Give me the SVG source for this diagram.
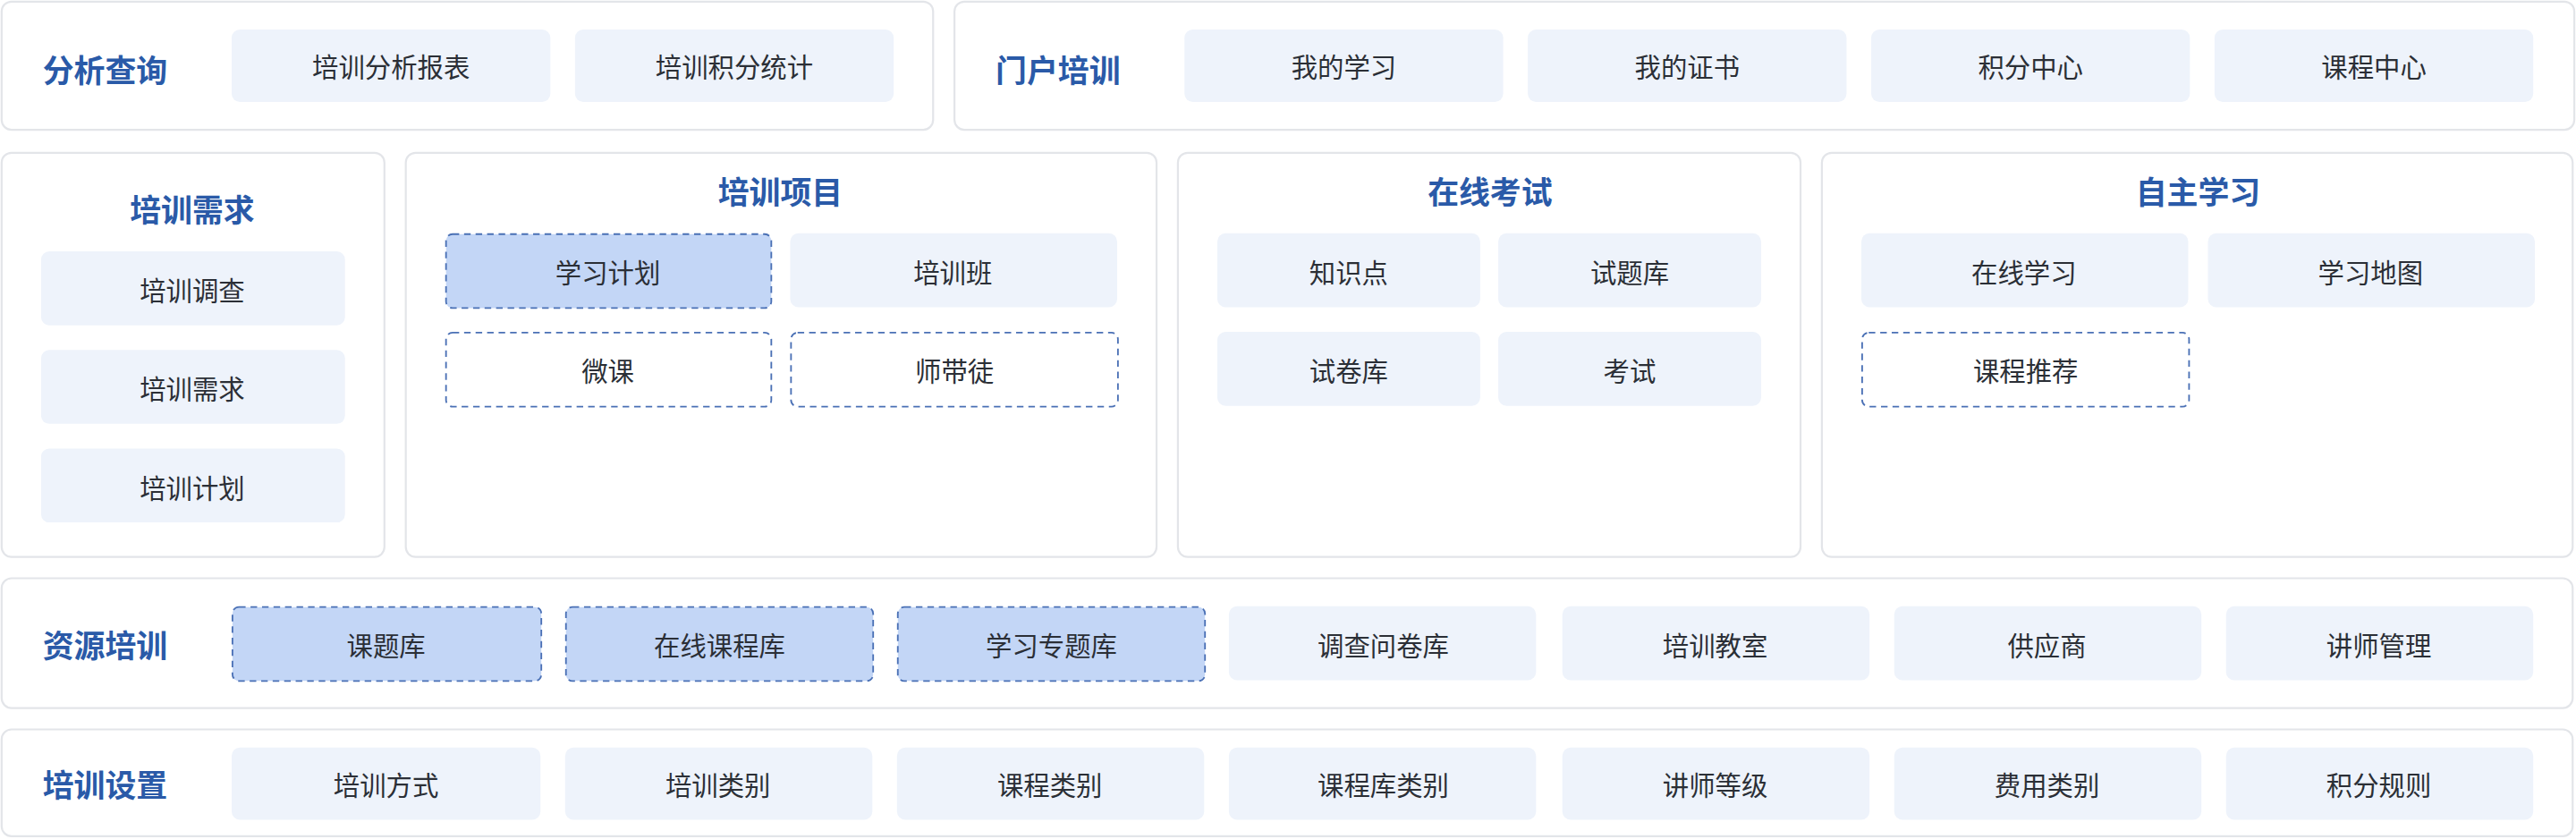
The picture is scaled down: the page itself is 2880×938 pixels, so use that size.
<svg xmlns="http://www.w3.org/2000/svg" width="2880" height="938" viewBox="0 0 2880 938">
<style>
.p{fill:#fff;stroke:#e3e5e9;stroke-width:1.2}
.c{fill:#eef3fb}
.h{fill:#c3d6f6;stroke:#4a70b5;stroke-width:1;stroke-dasharray:4 3}
.d{fill:#fff;stroke:#4a70b5;stroke-width:1;stroke-dasharray:4 3}
.t{font-family:"Noto Sans CJK SC",sans-serif;font-size:16px;fill:#2b2f36;text-anchor:middle;dominant-baseline:central}
.g{font-family:"Noto Sans CJK SC",sans-serif;font-size:19px;font-weight:bold;fill:#2a5aa8;dominant-baseline:central}
.m{text-anchor:middle}
</style>
<rect width="2880" height="938" fill="#fff"/>
<g transform="scale(1.8367)">
<g id="panels">
<rect class="p" x="1" y="1" width="567" height="78" rx="6"/>
<rect class="p" x="581" y="1" width="986" height="78" rx="6"/>
<rect class="p" x="1" y="93" width="233" height="246" rx="6"/>
<rect class="p" x="247" y="93" width="457" height="246" rx="6"/>
<rect class="p" x="717" y="93" width="379" height="246" rx="6"/>
<rect class="p" x="1109" y="93" width="457" height="246" rx="6"/>
<rect class="p" x="1" y="352" width="1565" height="79" rx="6"/>
<rect class="p" x="1" y="444" width="1565" height="65" rx="6"/>
</g>
<g id="titles">
<text class="g" x="26" y="42">分析查询</text>
<text class="g" x="606" y="42">门户培训</text>
<text class="g m" x="117" y="127">培训需求</text>
<text class="g m" x="475" y="116">培训项目</text>
<text class="g m" x="907" y="116">在线考试</text>
<text class="g m" x="1338" y="116">自主学习</text>
<text class="g" x="26" y="392">资源培训</text>
<text class="g" x="26" y="477">培训设置</text>
</g>
<g id="n1"><rect class="c" x="141" y="18" width="194" height="44" rx="5"/><text class="t" x="238" y="40">培训分析报表</text></g>
<g id="n2"><rect class="c" x="350" y="18" width="194" height="44" rx="5"/><text class="t" x="447" y="40">培训积分统计</text></g>
<g id="n3"><rect class="c" x="721" y="18" width="194" height="44" rx="5"/><text class="t" x="818" y="40">我的学习</text></g>
<g id="n4"><rect class="c" x="930" y="18" width="194" height="44" rx="5"/><text class="t" x="1027" y="40">我的证书</text></g>
<g id="n5"><rect class="c" x="1139" y="18" width="194" height="44" rx="5"/><text class="t" x="1236" y="40">积分中心</text></g>
<g id="n6"><rect class="c" x="1348" y="18" width="194" height="44" rx="5"/><text class="t" x="1445" y="40">课程中心</text></g>
<g id="n7"><rect class="c" x="25" y="153" width="185" height="45" rx="5"/><text class="t" x="117" y="176">培训调查</text></g>
<g id="n8"><rect class="c" x="25" y="213" width="185" height="45" rx="5"/><text class="t" x="117" y="236">培训需求</text></g>
<g id="n9"><rect class="c" x="25" y="273" width="185" height="45" rx="5"/><text class="t" x="117" y="296">培训计划</text></g>
<g id="n10"><rect class="h" x="271.5" y="142.5" width="198" height="45" rx="4"/><text class="t" x="370" y="165">学习计划</text></g>
<g id="n11"><rect class="c" x="481" y="142" width="199" height="45" rx="5"/><text class="t" x="580" y="165">培训班</text></g>
<g id="n12"><rect class="d" x="271.5" y="202.5" width="198" height="45" rx="4"/><text class="t" x="370" y="225">微课</text></g>
<g id="n13"><rect class="d" x="481.5" y="202.5" width="199" height="45" rx="4"/><text class="t" x="581" y="225">师带徒</text></g>
<g id="n14"><rect class="c" x="741" y="142" width="160" height="45" rx="5"/><text class="t" x="821" y="165">知识点</text></g>
<g id="n15"><rect class="c" x="912" y="142" width="160" height="45" rx="5"/><text class="t" x="992" y="165">试题库</text></g>
<g id="n16"><rect class="c" x="741" y="202" width="160" height="45" rx="5"/><text class="t" x="821" y="225">试卷库</text></g>
<g id="n17"><rect class="c" x="912" y="202" width="160" height="45" rx="5"/><text class="t" x="992" y="225">考试</text></g>
<g id="n18"><rect class="c" x="1133" y="142" width="199" height="45" rx="5"/><text class="t" x="1232" y="165">在线学习</text></g>
<g id="n19"><rect class="c" x="1344" y="142" width="199" height="45" rx="5"/><text class="t" x="1443" y="165">学习地图</text></g>
<g id="n20"><rect class="d" x="1133.5" y="202.5" width="199" height="45" rx="4"/><text class="t" x="1233" y="225">课程推荐</text></g>
<g id="n21"><rect class="h" x="141.5" y="369.5" width="188" height="45" rx="4"/><text class="t" x="235" y="392">课题库</text></g>
<g id="n22"><rect class="h" x="344.5" y="369.5" width="187" height="45" rx="4"/><text class="t" x="438" y="392">在线课程库</text></g>
<g id="n23"><rect class="h" x="546.5" y="369.5" width="187" height="45" rx="4"/><text class="t" x="640" y="392">学习专题库</text></g>
<g id="n24"><rect class="c" x="748" y="369" width="187" height="45" rx="5"/><text class="t" x="842" y="392">调查问卷库</text></g>
<g id="n25"><rect class="c" x="951" y="369" width="187" height="45" rx="5"/><text class="t" x="1044" y="392">培训教室</text></g>
<g id="n26"><rect class="c" x="1153" y="369" width="187" height="45" rx="5"/><text class="t" x="1246" y="392">供应商</text></g>
<g id="n27"><rect class="c" x="1355" y="369" width="187" height="45" rx="5"/><text class="t" x="1448" y="392">讲师管理</text></g>
<g id="n28"><rect class="c" x="141" y="455" width="188" height="44" rx="5"/><text class="t" x="235" y="477">培训方式</text></g>
<g id="n29"><rect class="c" x="344" y="455" width="187" height="44" rx="5"/><text class="t" x="437" y="477">培训类别</text></g>
<g id="n30"><rect class="c" x="546" y="455" width="187" height="44" rx="5"/><text class="t" x="639" y="477">课程类别</text></g>
<g id="n31"><rect class="c" x="748" y="455" width="187" height="44" rx="5"/><text class="t" x="842" y="477">课程库类别</text></g>
<g id="n32"><rect class="c" x="951" y="455" width="187" height="44" rx="5"/><text class="t" x="1044" y="477">讲师等级</text></g>
<g id="n33"><rect class="c" x="1153" y="455" width="187" height="44" rx="5"/><text class="t" x="1246" y="477">费用类别</text></g>
<g id="n34"><rect class="c" x="1355" y="455" width="187" height="44" rx="5"/><text class="t" x="1448" y="477">积分规则</text></g>
<g id="connectors"/>
</g>
</svg>
